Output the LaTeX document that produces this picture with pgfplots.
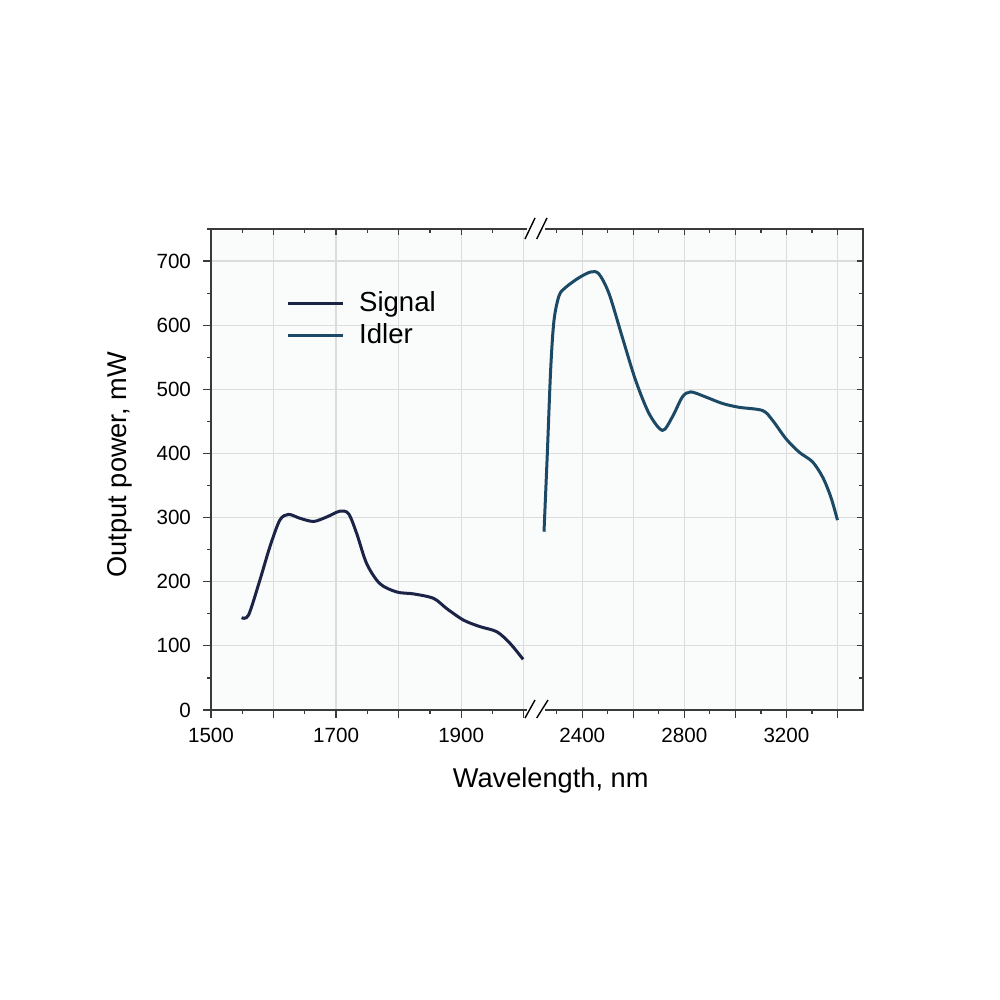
\documentclass[border=0pt]{standalone}
\usepackage{fontspec}
\setmainfont{Liberation Sans}
\usepackage{pgfplots}
\pgfplotsset{compat=1.18}

\definecolor{signalc}{HTML}{1B2347}
\definecolor{idlerc}{HTML}{1C4A66}
\definecolor{gridc}{HTML}{DCDCDC}
\definecolor{bgc}{HTML}{FAFBFB}
\definecolor{framec}{HTML}{3A3A3A}

% broken wavelength axis: 1500-2000 nm at full scale, 2200-3500 nm compressed
\pgfplotsset{
  brokenx/.style={
    x coord trafo/.code={\pgfmathparse{##1>2100 ? 2012+(##1-2200)*0.408 : ##1}},
    xmin=1500, xmax=3500,
    ymin=0, ymax=750,
  },
}

\begin{document}
\begin{tikzpicture}
\begin{axis}[
  name=main,
  brokenx,
  scale only axis,
  width=326pt, height=240.5pt,
  axis background/.style={fill=bgc},
  axis line style={framec, line width=0.7pt},
  font=\fontsize{10.3pt}{12pt}\selectfont,
  /pgf/number format/assume math mode=true,
  xtick={1500,1600,1700,1800,1900,2000,2400,2600,2800,3000,3200,3400},
  xticklabels={1500,{},1700,{},1900,{},2400,{},2800,{},3200,{}},
  minor xtick={1550,1650,1750,1850,1950,2300,2500,2700,2900,3100,3300},
  ytick={0,100,...,700},
  minor ytick={50,150,...,750},
  xtick pos=bottom, ytick pos=left,
  tick align=outside,
  major tick length=4pt, minor tick length=2pt,
  tick style={framec, line width=0.6pt},
  xticklabel style={yshift=-1.5pt},
  yticklabel style={xshift=-2.5pt},
  grid=major,
  major grid style={gridc, line width=0.6pt},
  xlabel={Wavelength, nm},
  ylabel={Output power, mW},
  label style={font=\fontsize{13.6pt}{16pt}\selectfont},
  xlabel style={at={(axis description cs:0.521,-0.162)}, anchor=base},
  ylabel style={at={(axis description cs:-0.13,0.51)}, anchor=base},
  legend style={draw=none, fill=none, at={(0.106,0.887)}, anchor=north west,
    font=\fontsize{13.8pt}{16pt}\selectfont, row sep=0.5pt, column sep=5.5pt},
  legend cell align=left,
  legend image code/.code={\draw[#1, line width=1.3pt] (0pt,0pt) -- (27.5pt,0pt);},
  every axis plot/.append style={line width=1.5pt},
]
\addplot[signalc, smooth] coordinates {
  (1549,144) (1560,148) (1578,202) (1594,254) (1610,296) (1624,305)
  (1642,299) (1664,294) (1685,301) (1706,310) (1720,306) (1733,275)
  (1749,228) (1770,197) (1797,184) (1824,181) (1856,174) (1877,158)
  (1904,140) (1930,130) (1957,122) (1978,104) (1999,79)
};
\addlegendentry{Signal}
\addplot[idlerc, smooth] coordinates {
  (2250,278) (2263,400) (2276,530) (2289,607) (2309,646) (2335,659)
  (2387,674) (2433,683) (2465,680) (2505,649) (2557,581) (2609,514)
  (2662,462) (2714,436) (2753,457) (2792,488) (2825,496) (2884,488)
  (2949,478) (3014,472) (3106,467) (3145,452) (3198,423) (3250,402)
  (3302,387) (3342,363) (3374,332) (3400,296)
};
\addlegendentry{Idler}
\end{axis}
% inward ticks on top and right
\begin{axis}[
  brokenx,
  scale only axis,
  width=326pt, height=240.5pt,
  axis line style={draw=none},
  xtick={1500,1600,1700,1800,1900,2400,2600,2800,3000,3200,3400},
  minor xtick={1550,1650,1750,1850,1950,2300,2500,2700,2900,3100,3300},
  ytick={0,100,...,700},
  minor ytick={50,150,...,750},
  xticklabels={}, yticklabels={},
  xtick pos=top, ytick pos=right,
  tick align=inside,
  major tick length=3pt, minor tick length=2pt,
  tick style={framec, line width=0.6pt},
]
\end{axis}
% axis break marks
\begin{scope}[shift={(main.south west)}]
  \fill[white] (158pt,-1pt) rectangle (167pt,1pt);
  \fill[white] (158pt,239.5pt) rectangle (167pt,241.5pt);
  \draw[black, line width=0.7pt] (157pt,-4pt) -- (162pt,5pt);
  \draw[black, line width=0.7pt] (162.85pt,-4pt) -- (168.5pt,5pt);
  \draw[black, line width=0.7pt] (157pt,235.5pt) -- (162pt,246pt);
  \draw[black, line width=0.7pt] (162.85pt,235.5pt) -- (168pt,246pt);
  \pgfresetboundingbox
  \path[use as bounding box] (-105.5pt,-145pt) rectangle (394.5pt,355pt);
\end{scope}
\end{tikzpicture}
\end{document}
